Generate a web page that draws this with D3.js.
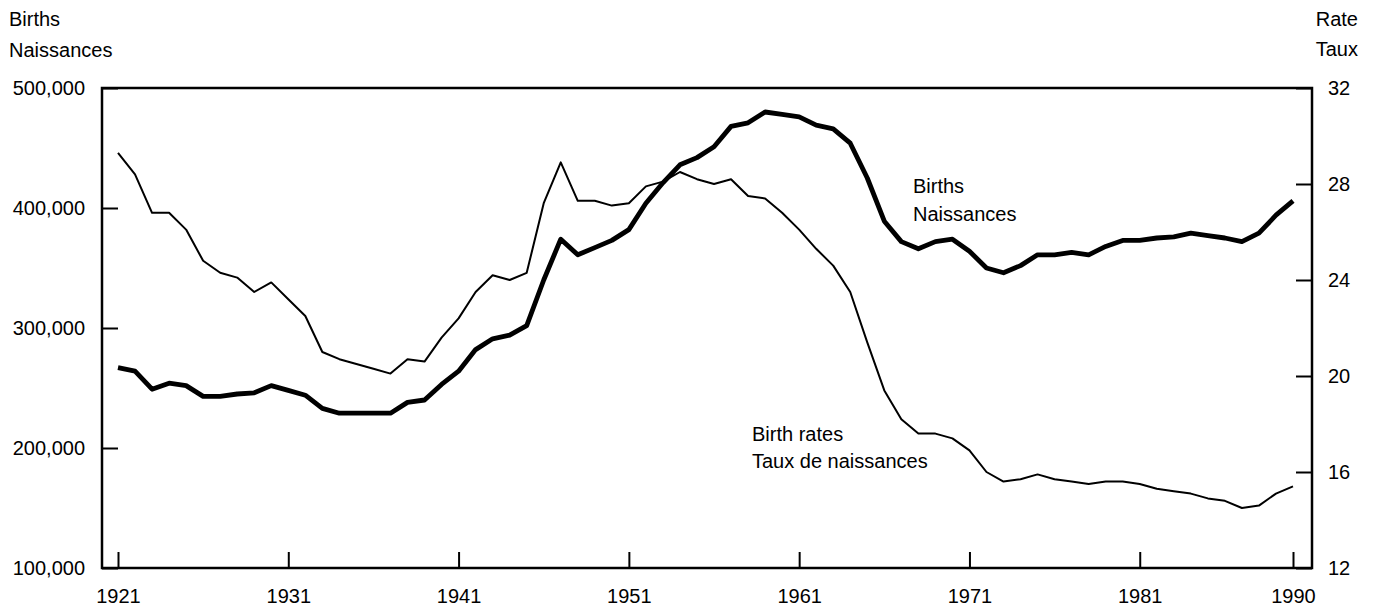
<!DOCTYPE html>
<html lang="en">
<head>
<meta charset="utf-8">
<title>Births and birth rates</title>
<style>
    body {
        margin: 0;
        background-color: white;
        font-family: "Liberation Sans", Arial, Helvetica, sans-serif;
    }

    svg {
        display: block;
        background-color: white;
    }

    .axis text {
        font-family: "Liberation Sans", Arial, Helvetica, sans-serif;
        font-size: 20px;
        fill: black;
    }

    .axis line {
        stroke: black;
        stroke-width: 2;
    }

    .axis path {
        display: none;
    }

    .label {
        font-size: 20px;
        fill: black;
    }
</style>
</head>
<body>

<script src="https://cdnjs.cloudflare.com/ajax/libs/d3/7.8.5/d3.min.js"></script>
<script>
    // years 1921 .. 1990
    var years = d3.range(1921, 1991);

    // births
    var births = [
        267000, 264000, 249000, 254000, 252000, 243000, 243000, 245000, 246000, 252000,  // 1921-30
        248000, 244000, 233000, 229000, 229000, 229000, 229000, 238000, 240000, 253000,  // 1931-40
        264000, 282000, 291000, 294000, 302000, 340000, 374000, 361000, 367000, 373000,  // 1941-50
        382000, 404000, 421000, 436000, 442000, 451000, 468000, 471000, 480000, 478000,  // 1951-60
        476000, 469000, 466000, 454000, 425000, 389000, 372000, 366000, 372000, 374000,  // 1961-70
        364000, 350000, 346000, 352000, 361000, 361000, 363000, 361000, 368000, 373000,  // 1971-80
        373000, 375000, 376000, 379000, 377000, 375000, 372000, 379000, 394000, 406000   // 1981-90
    ];

    // birth rate per 1,000
    var rates = [
        29.3, 28.4, 26.8, 26.8, 26.1, 24.8, 24.3, 24.1, 23.5, 23.9,   // 1921-30
        23.2, 22.5, 21.0, 20.7, 20.5, 20.3, 20.1, 20.7, 20.6, 21.6,   // 1931-40
        22.4, 23.5, 24.2, 24.0, 24.3, 27.2, 28.9, 27.3, 27.3, 27.1,   // 1941-50
        27.2, 27.9, 28.1, 28.5, 28.2, 28.0, 28.2, 27.5, 27.4, 26.8,   // 1951-60
        26.1, 25.3, 24.6, 23.5, 21.4, 19.4, 18.2, 17.6, 17.6, 17.4,   // 1961-70
        16.9, 16.0, 15.6, 15.7, 15.9, 15.7, 15.6, 15.5, 15.6, 15.6,   // 1971-80
        15.5, 15.3, 15.2, 15.1, 14.9, 14.8, 14.5, 14.6, 15.1, 15.4    // 1981-90
    ];

    var yearTicks = [1921, 1931, 1941, 1951, 1961, 1971, 1981, 1990];
    var birthTicks = [100000, 200000, 300000, 400000, 500000];
    var rateTicks = [12, 16, 20, 24, 28, 32];

    var fullwidth = 1376;
    var fullheight = 612;
    var margin = { top: 88, right: 64, bottom: 44, left: 102 };
    var width = fullwidth - margin.left - margin.right;
    var height = fullheight - margin.top - margin.bottom;

    var data = years.map(function(y, i) {
        return { year: y, births: births[i], rate: rates[i] };
    });

    var svg = d3.select("body")
                .append("svg")
                .attr("width", fullwidth)
                .attr("height", fullheight);

    var g = svg.append("g")
               .attr("transform", "translate(" + margin.left + "," + margin.top + ")");

    var xScale = d3.scaleLinear()
                   .domain([1921, 1990])
                   .range([16, width - 19]);

    var yBirths = d3.scaleLinear()
                    .domain([100000, 500000])
                    .range([height, 0]);

    var yRate = d3.scaleLinear()
                  .domain([12, 32])
                  .range([height, 0]);

    // axes, ticks pointing into the plot
    var xAxis = d3.axisBottom(xScale)
                  .tickValues(yearTicks)
                  .tickFormat(d3.format("d"))
                  .tickSizeInner(-16)
                  .tickSizeOuter(0)
                  .tickPadding(21);

    var yAxisLeft = d3.axisLeft(yBirths)
                      .tickValues(birthTicks)
                      .tickFormat(d3.format(","))
                      .tickSizeInner(-16)
                      .tickSizeOuter(0)
                      .tickPadding(17);

    var yAxisRight = d3.axisRight(yRate)
                       .tickValues(rateTicks)
                       .tickSizeInner(-16)
                       .tickSizeOuter(0)
                       .tickPadding(16);

    g.append("g")
     .attr("class", "x axis")
     .attr("transform", "translate(0," + height + ")")
     .call(xAxis);

    g.append("g")
     .attr("class", "y axis")
     .call(yAxisLeft);

    g.append("g")
     .attr("class", "y axis")
     .attr("transform", "translate(" + width + ",0)")
     .call(yAxisRight);

    // frame
    g.append("rect")
     .attr("x", 0)
     .attr("y", 0)
     .attr("width", width)
     .attr("height", height)
     .attr("fill", "none")
     .attr("stroke", "black")
     .attr("stroke-width", 2.5);

    // lines
    var birthLine = d3.line()
                      .x(function(d) { return xScale(d.year); })
                      .y(function(d) { return yBirths(d.births); });

    var rateLine = d3.line()
                     .x(function(d) { return xScale(d.year); })
                     .y(function(d) { return yRate(d.rate); });

    g.append("path")
     .datum(data)
     .attr("d", rateLine)
     .attr("fill", "none")
     .attr("stroke", "black")
     .attr("stroke-width", 2)
     .attr("stroke-linejoin", "round");

    g.append("path")
     .datum(data)
     .attr("d", birthLine)
     .attr("fill", "none")
     .attr("stroke", "black")
     .attr("stroke-width", 4.8)
     .attr("stroke-linejoin", "round");

    // axis titles
    svg.append("text").attr("class", "label").attr("x", 9).attr("y", 26).text("Births");
    svg.append("text").attr("class", "label").attr("x", 9).attr("y", 57).text("Naissances");
    svg.append("text").attr("class", "label").attr("x", 1358).attr("y", 26)
       .attr("text-anchor", "end").text("Rate");
    svg.append("text").attr("class", "label").attr("x", 1358).attr("y", 56)
       .attr("text-anchor", "end").text("Taux");

    // series labels inside the plot
    svg.append("text").attr("class", "label").attr("x", 913).attr("y", 193).text("Births");
    svg.append("text").attr("class", "label").attr("x", 913).attr("y", 221).text("Naissances");
    svg.append("text").attr("class", "label").attr("x", 752).attr("y", 441).text("Birth rates");
    svg.append("text").attr("class", "label").attr("x", 752).attr("y", 468).text("Taux de naissances");
</script>
</body>
</html>
